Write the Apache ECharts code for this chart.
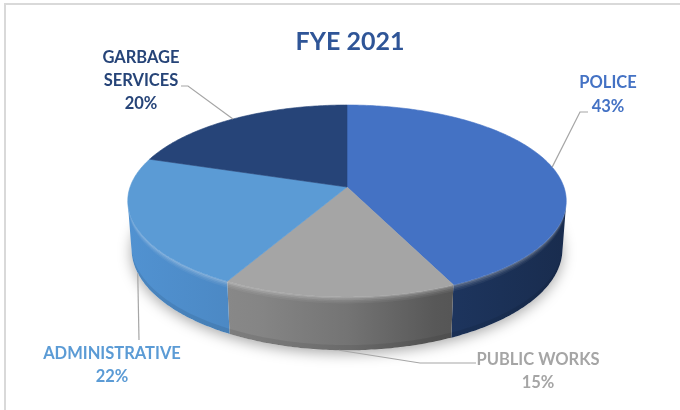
<!DOCTYPE html>
<html>
<head>
<meta charset="utf-8">
<script src="https://cdn.jsdelivr.net/npm/echarts@6/dist/echarts.min.js"></script>
<style>
  html, body { margin: 0; padding: 0; background: #ffffff; }
  #chart { width: 680px; height: 410px; }
</style>
</head>
<body>
<div id="chart"></div>
<script>
// ---- data ----
const chartTitle = 'FYE 2021';
const categories = ['POLICE', 'PUBLIC WORKS', 'ADMINISTRATIVE', 'GARBAGE SERVICES'];
const shares = [43, 15, 22, 20];               // percent of total
const labelNames = [['POLICE'], ['PUBLIC WORKS'], ['ADMINISTRATIVE'], ['GARBAGE', 'SERVICES']];

// ---- styling ----
const topColors   = ['#4472C4', '#A5A5A5', '#5B9BD5', '#264478'];
const wallColors  = ['#31579b', '#8e8e8e', '#4f8fcd', '#203a68'];
const labelColors = ['#4472C4', '#A5A5A5', '#5B9BD5', '#264478'];
const FONT = 'Lato, "Open Sans", sans-serif';

// label placement: text block centre, elbow and end of the leader line
const labelLayout = [
  { x: 608, y: 95,    lineHeight: 24, elbow: [580, 112], end: [588, 112] },
  { x: 538, y: 371.5, lineHeight: 23, elbow: [420, 363], end: [476, 363] },
  { x: 112, y: 365.5, lineHeight: 23, elbow: [139, 340], end: [139, 340] },
  { x: 141, y: 81,    lineHeight: 23, elbow: [188, 86],  end: [181, 86] }
];

// ---- perspective camera for the tilted disc ----
const view = { cx: 347, cy: 187, focal: 1343, radius: 0.1615, tilt: 25.66, thickness: 0.040 };
const TILT = view.tilt * Math.PI / 180;

// phi: degrees clockwise from the far side of the disc; yw: height (0 = top face)
function project(phi, yw, frac) {
  const r = view.radius * (frac === undefined ? 1 : frac);
  const p = phi * Math.PI / 180;
  const X = r * Math.sin(p), Z = r * Math.cos(p);
  const depth = 1 + Z * Math.cos(TILT) - yw * Math.sin(TILT);
  const up = yw * Math.cos(TILT) + Z * Math.sin(TILT);
  return [view.cx + view.focal * X / depth, view.cy - view.focal * up / depth];
}

function arc(a0, a1, yw) {
  const pts = [];
  const n = Math.max(2, Math.ceil(Math.abs(a1 - a0) / 0.75));
  for (let i = 0; i <= n; i++) pts.push(project(a0 + (a1 - a0) * i / n, yw));
  return pts;
}

function shade(hex, f) {
  const n = parseInt(hex.slice(1), 16);
  const c = [(n >> 16) & 255, (n >> 8) & 255, n & 255].map(v => Math.max(0, Math.min(255, Math.round(v * f))));
  return 'rgb(' + c.join(',') + ')';
}

// visible part of the outer wall (normal facing the camera)
const wallEdge = Math.acos(-view.radius / Math.cos(TILT)) * 180 / Math.PI;
const wallFrom = wallEdge, wallTo = 360 - wallEdge;
const pieLeft = project(wallTo, 0)[0], pieRight = project(wallFrom, 0)[0];

const total = shares.reduce((s, v) => s + v, 0);
const startAngles = [];
shares.reduce((acc, v, i) => { startAngles[i] = acc; return acc + v / total * 360; }, 0);

function renderSlice(params, api) {
  const i = params.dataIndex;
  const a0 = startAngles[i];
  const a1 = a0 + api.value(0) / total * 360;
  const mid = (a0 + a1) / 2;
  const children = [];
  const H = view.thickness;

  // top face
  const top = [[view.cx, view.cy]].concat(arc(a0, a1, 0));
  children.push({
    type: 'polygon', z2: 10,
    shape: { points: top },
    style: { fill: topColors[i], stroke: topColors[i], lineWidth: 0.6 }
  });

  // outer wall
  const w0 = Math.max(a0, wallFrom), w1 = Math.min(a1, wallTo);
  if (w1 > w0) {
    const pts = arc(w0, w1, 0).concat(arc(w1, w0, -H));
    const stops = [[0, 1.02], [0.3, 0.94], [0.5, 0.82], [0.7, 0.62], [0.85, 0.56], [1, 0.5]];
    children.push({
      type: 'polygon', z2: 2,
      shape: { points: pts },
      style: {
        fill: {
          type: 'linear', global: true,
          x: pieLeft, y: 0, x2: pieRight, y2: 0,
          colorStops: stops.map(s => ({ offset: s[0], color: shade(wallColors[i], s[1]) }))
        },
        stroke: 'rgba(0,0,0,0)'
      }
    });
    // rounded rim highlight just under the top edge
    const bands = [0.32, 0.2, 0.11, 0.05];
    bands.forEach((op, k) => {
      const ya = -H * 0.03 * k, yb = -H * 0.03 * (k + 1);
      children.push({
        type: 'polygon', z2: 3 + k * 0.1,
        shape: { points: arc(w0, w1, ya).concat(arc(w1, w0, yb)) },
        style: { fill: 'rgba(255,255,255,' + op + ')' }
      });
    });
    // bottom edge darkening
    children.push({
      type: 'polygon', z2: 3.5,
      shape: { points: arc(w0, w1, -H * 0.9).concat(arc(w1, w0, -H)) },
      style: { fill: 'rgba(0,0,0,0.08)' }
    });
  }

  // leader line and label
  const front = mid > 90 && mid < 270;
  const anchor = project(mid, front ? -H : 0);
  const lay = labelLayout[i];
  children.push({
    type: 'polyline', z2: 20,
    shape: { points: [anchor, lay.elbow, lay.end] },
    style: { stroke: '#a6a6a6', lineWidth: 1.2, fill: null }
  });
  children.push({
    type: 'text', z2: 21,
    x: lay.x, y: lay.y,
    style: {
      text: labelNames[i].join('\n') + '\n' + api.value(0) + '%',
      fill: labelColors[i],
      font: 'bold 16.5px ' + FONT,
      align: 'center', verticalAlign: 'middle',
      lineHeight: lay.lineHeight
    }
  });

  return { type: 'group', children: children };
}

// soft contact shadow under the disc
const baseOutline = arc(0, 360, -view.thickness);

const chart = echarts.init(document.getElementById('chart'), null, { renderer: 'canvas' });
chart.setOption({
  backgroundColor: '#ffffff',
  animation: false,
  title: {
    text: chartTitle,
    left: 345, top: 24, textAlign: 'center',
    textStyle: { color: '#2F5597', fontSize: 25, fontWeight: 'bold', fontFamily: FONT }
  },
  graphic: [
    { type: 'rect', shape: { x: 5, y: 4, width: 720, height: 440 },
      style: { fill: 'none', stroke: '#d9d9d9', lineWidth: 2 } },
    { type: 'polygon', shape: { points: baseOutline },
      style: { fill: '#ffffff', shadowColor: 'rgba(0,0,0,0.35)', shadowBlur: 14, shadowOffsetY: 3 } }
  ],
  series: [{
    type: 'custom',
    coordinateSystem: 'none',
    name: chartTitle,
    data: shares.map((v, i) => ({ name: categories[i], value: [v] })),
    renderItem: renderSlice
  }]
});
</script>
</body>
</html>
